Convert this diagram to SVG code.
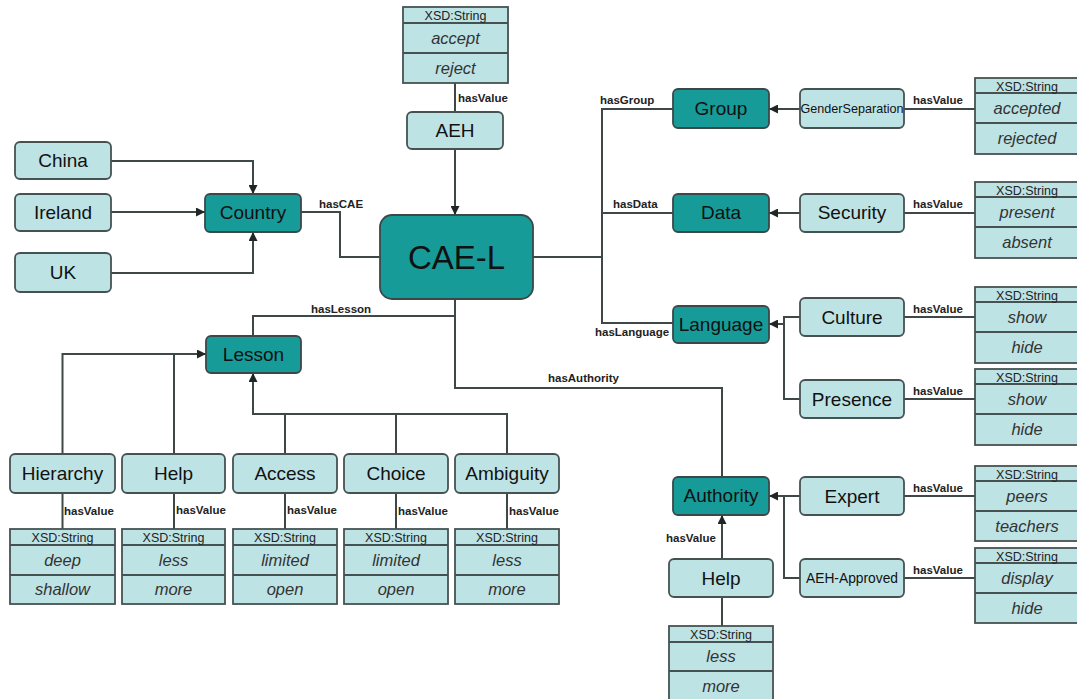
<svg xmlns="http://www.w3.org/2000/svg" width="1077" height="699" viewBox="0 0 1077 699">
  <style>
    .lt { fill: #bee3e5; stroke: #465252; stroke-width: 1.8; }
    .dk { fill: #179b99; stroke: #3c4848; stroke-width: 1.8; }
    .lbl { font-family: "Liberation Sans", Arial, sans-serif; font-size: 19px; fill: #111; text-anchor: middle; }
    .edge { fill: none; stroke: #3e4848; stroke-width: 2; }
    .rel { font-family: "Liberation Sans", Arial, sans-serif; font-size: 11.5px; font-weight: bold; fill: #222; }
    .tb { fill: #bee3e5; stroke: #465252; stroke-width: 1.8; }
    .sep { stroke: #465252; stroke-width: 1.8; }
    .hd { font-family: "Liberation Sans", Arial, sans-serif; font-size: 12.5px; fill: #222; text-anchor: middle; }
    .val { font-family: "Liberation Sans", Arial, sans-serif; font-size: 16.5px; font-style: italic; fill: #333; text-anchor: middle; }
  </style>
  <defs>
    <marker id="arr" viewBox="0 0 10 10" refX="10" refY="5" markerWidth="4.5" markerHeight="4.5" orient="auto" markerUnits="strokeWidth">
      <path d="M0,0 L10,5 L0,10 z" fill="#1e2626"/>
    </marker>
  </defs>
  <rect width="1077" height="699" fill="#ffffff"/>

  <!-- connectors -->
  <g id="connectors">
    <path class="edge" d="M111,161 H253 V194" marker-end="url(#arr)"/>
    <path class="edge" d="M111,212 H205" marker-end="url(#arr)"/>
    <path class="edge" d="M111,273 H253 V232" marker-end="url(#arr)"/>
    <path class="edge" d="M301,212 H340 V257 H380"/>
    <path class="edge" d="M455,83 V112"/>
    <path class="edge" d="M455,149 V215" marker-end="url(#arr)"/>
    <path class="edge" d="M533,257 H602"/>
    <path class="edge" d="M673,109 H602 V323 H673"/>
    <path class="edge" d="M602,213 H673"/>
    <path class="edge" d="M455,299 V388 H722 V477"/>
    <path class="edge" d="M455,316 H253 V336"/>
    <path class="edge" d="M800,109 H769" marker-end="url(#arr)"/>
    <path class="edge" d="M800,213 H769" marker-end="url(#arr)"/>
    <path class="edge" d="M800,317 H784 V399 H800"/>
    <path class="edge" d="M784,324 H769" marker-end="url(#arr)"/>
    <path class="edge" d="M800,496 H769" marker-end="url(#arr)"/>
    <path class="edge" d="M784,496 V578 H800"/>
    <path class="edge" d="M722,559 V515" marker-end="url(#arr)"/>
    <path class="edge" d="M722,597 V626"/>
    <path class="edge" d="M904,109 H975"/>
    <path class="edge" d="M904,213 H975"/>
    <path class="edge" d="M904,317 H975"/>
    <path class="edge" d="M904,399 H975"/>
    <path class="edge" d="M904,496 H975"/>
    <path class="edge" d="M904,578 H975"/>
    <path class="edge" d="M62.5,454 V354 H206" marker-end="url(#arr)"/>
    <path class="edge" d="M174,454 V354"/>
    <path class="edge" d="M285,454 V414 M396,454 V414 M507,454 V414 H253 V373" marker-end="url(#arr)"/>
    <path class="edge" d="M62.5,493 V529 M174,493 V529 M285,493 V529 M396,493 V529 M507,493 V529"/>

    <text class="rel" x="458" y="102">hasValue</text>
    <text class="rel" x="319" y="208">hasCAE</text>
    <text class="rel" x="600" y="104">hasGroup</text>
    <text class="rel" x="613" y="208">hasData</text>
    <text class="rel" x="595" y="336">hasLanguage</text>
    <text class="rel" x="311" y="313">hasLesson</text>
    <text class="rel" x="548" y="382">hasAuthority</text>
    <text class="rel" x="666" y="542">hasValue</text>
    <text class="rel" x="913" y="104">hasValue</text>
    <text class="rel" x="913" y="208">hasValue</text>
    <text class="rel" x="913" y="313">hasValue</text>
    <text class="rel" x="913" y="395">hasValue</text>
    <text class="rel" x="913" y="492">hasValue</text>
    <text class="rel" x="913" y="574">hasValue</text>
    <text class="rel" x="64" y="515">hasValue</text>
    <text class="rel" x="176" y="514">hasValue</text>
    <text class="rel" x="287" y="514">hasValue</text>
    <text class="rel" x="398" y="515">hasValue</text>
    <text class="rel" x="509" y="515">hasValue</text>
  </g>

  <!-- central concept -->
  <g id="cae-l">
    <rect class="dk" x="380" y="215" width="153" height="84" rx="12"/>
    <text class="lbl" x="456.5" y="269" style="font-size:33px">CAE-L</text>
  </g>

  <!-- class nodes -->
  <g id="country"><rect class="dk" x="205" y="194" width="96" height="38" rx="5"/><text class="lbl" x="253" y="219">Country</text></g>
  <g id="lesson"><rect class="dk" x="206" y="336" width="95" height="37" rx="5"/><text class="lbl" x="253.5" y="361">Lesson</text></g>
  <g id="group"><rect class="dk" x="673" y="89" width="96" height="39" rx="5"/><text class="lbl" x="721" y="115">Group</text></g>
  <g id="data"><rect class="dk" x="673" y="194" width="96" height="38" rx="5"/><text class="lbl" x="721" y="219">Data</text></g>
  <g id="language"><rect class="dk" x="673" y="306" width="96" height="37" rx="5"/><text class="lbl" x="721" y="331">Language</text></g>
  <g id="authority"><rect class="dk" x="673" y="477" width="96" height="38" rx="5"/><text class="lbl" x="721" y="502">Authority</text></g>

  <!-- instance / property nodes -->
  <g id="china"><rect class="lt" x="15" y="142" width="96" height="37" rx="5"/><text class="lbl" x="63" y="167">China</text></g>
  <g id="ireland"><rect class="lt" x="15" y="194" width="96" height="37" rx="5"/><text class="lbl" x="63" y="219">Ireland</text></g>
  <g id="uk"><rect class="lt" x="15" y="253" width="96" height="39" rx="5"/><text class="lbl" x="63" y="279">UK</text></g>
  <g id="aeh"><rect class="lt" x="407" y="112" width="96" height="37" rx="5"/><text class="lbl" x="455" y="137">AEH</text></g>
  <g id="gender-separation"><rect class="lt" x="800" y="89" width="104" height="39" rx="5"/><text class="lbl" x="852" y="113" style="font-size:12.6px">GenderSeparation</text></g>
  <g id="security"><rect class="lt" x="800" y="194" width="104" height="38" rx="5"/><text class="lbl" x="852" y="219">Security</text></g>
  <g id="culture"><rect class="lt" x="800" y="298" width="104" height="38" rx="5"/><text class="lbl" x="852" y="324">Culture</text></g>
  <g id="presence"><rect class="lt" x="800" y="380" width="104" height="38" rx="5"/><text class="lbl" x="852" y="406">Presence</text></g>
  <g id="expert"><rect class="lt" x="800" y="477" width="104" height="38" rx="5"/><text class="lbl" x="852" y="503">Expert</text></g>
  <g id="aeh-approved"><rect class="lt" x="800" y="559" width="104" height="38" rx="5"/><text class="lbl" x="852" y="583" style="font-size:13.8px">AEH-Approved</text></g>
  <g id="help-authority"><rect class="lt" x="669" y="559" width="104" height="38" rx="5"/><text class="lbl" x="721" y="585">Help</text></g>
  <g id="hierarchy"><rect class="lt" x="10" y="454" width="105" height="39" rx="5"/><text class="lbl" x="62.5" y="480">Hierarchy</text></g>
  <g id="help-lesson"><rect class="lt" x="122" y="454" width="103" height="39" rx="5"/><text class="lbl" x="173.5" y="480">Help</text></g>
  <g id="access"><rect class="lt" x="233" y="454" width="104" height="39" rx="5"/><text class="lbl" x="285" y="480">Access</text></g>
  <g id="choice"><rect class="lt" x="344" y="454" width="104" height="39" rx="5"/><text class="lbl" x="396" y="480">Choice</text></g>
  <g id="ambiguity"><rect class="lt" x="455" y="454" width="104" height="39" rx="5"/><text class="lbl" x="507" y="480">Ambiguity</text></g>

  <!-- XSD:String value tables -->
  <g id="values-aeh" transform="translate(403,7)">
    <rect class="tb" width="105" height="76"/><line class="sep" x1="0" y1="16" x2="105" y2="16"/><line class="sep" x1="0" y1="46" x2="105" y2="46"/>
    <text class="hd" x="52.5" y="13">XSD:String</text><text class="val" x="52.5" y="37">accept</text><text class="val" x="52.5" y="67">reject</text>
  </g>
  <g id="values-gender" transform="translate(975,78)">
    <rect class="tb" width="106" height="76"/><line class="sep" x1="0" y1="15" x2="106" y2="15"/><line class="sep" x1="0" y1="45" x2="106" y2="45"/>
    <text class="hd" x="52" y="12.5">XSD:String</text><text class="val" x="52" y="36">accepted</text><text class="val" x="52" y="66">rejected</text>
  </g>
  <g id="values-security" transform="translate(975,182)">
    <rect class="tb" width="106" height="76"/><line class="sep" x1="0" y1="15" x2="106" y2="15"/><line class="sep" x1="0" y1="45" x2="106" y2="45"/>
    <text class="hd" x="52" y="12.5">XSD:String</text><text class="val" x="52" y="36">present</text><text class="val" x="52" y="66">absent</text>
  </g>
  <g id="values-culture" transform="translate(975,287)">
    <rect class="tb" width="106" height="76"/><line class="sep" x1="0" y1="15" x2="106" y2="15"/><line class="sep" x1="0" y1="45" x2="106" y2="45"/>
    <text class="hd" x="52" y="12.5">XSD:String</text><text class="val" x="52" y="36">show</text><text class="val" x="52" y="66">hide</text>
  </g>
  <g id="values-presence" transform="translate(975,369)">
    <rect class="tb" width="106" height="76"/><line class="sep" x1="0" y1="15" x2="106" y2="15"/><line class="sep" x1="0" y1="45" x2="106" y2="45"/>
    <text class="hd" x="52" y="12.5">XSD:String</text><text class="val" x="52" y="36">show</text><text class="val" x="52" y="66">hide</text>
  </g>
  <g id="values-expert" transform="translate(975,466)">
    <rect class="tb" width="106" height="75"/><line class="sep" x1="0" y1="15" x2="106" y2="15"/><line class="sep" x1="0" y1="45" x2="106" y2="45"/>
    <text class="hd" x="52" y="12.5">XSD:String</text><text class="val" x="52" y="36">peers</text><text class="val" x="52" y="66">teachers</text>
  </g>
  <g id="values-aeh-approved" transform="translate(975,548)">
    <rect class="tb" width="106" height="75"/><line class="sep" x1="0" y1="15" x2="106" y2="15"/><line class="sep" x1="0" y1="45" x2="106" y2="45"/>
    <text class="hd" x="52" y="12.5">XSD:String</text><text class="val" x="52" y="36">display</text><text class="val" x="52" y="66">hide</text>
  </g>
  <g id="values-help-authority" transform="translate(669,626)">
    <rect class="tb" width="104" height="76"/><line class="sep" x1="0" y1="16" x2="104" y2="16"/><line class="sep" x1="0" y1="45" x2="104" y2="45"/>
    <text class="hd" x="52" y="13">XSD:String</text><text class="val" x="52" y="36">less</text><text class="val" x="52" y="66">more</text>
  </g>
  <g id="values-hierarchy" transform="translate(10,529)">
    <rect class="tb" width="105" height="75"/><line class="sep" x1="0" y1="16" x2="105" y2="16"/><line class="sep" x1="0" y1="46" x2="105" y2="46"/>
    <text class="hd" x="52.5" y="13">XSD:String</text><text class="val" x="52.5" y="37">deep</text><text class="val" x="52.5" y="66">shallow</text>
  </g>
  <g id="values-help-lesson" transform="translate(122,529)">
    <rect class="tb" width="103" height="75"/><line class="sep" x1="0" y1="16" x2="103" y2="16"/><line class="sep" x1="0" y1="46" x2="103" y2="46"/>
    <text class="hd" x="51.5" y="13">XSD:String</text><text class="val" x="51.5" y="37">less</text><text class="val" x="51.5" y="66">more</text>
  </g>
  <g id="values-access" transform="translate(233,529)">
    <rect class="tb" width="104" height="75"/><line class="sep" x1="0" y1="16" x2="104" y2="16"/><line class="sep" x1="0" y1="46" x2="104" y2="46"/>
    <text class="hd" x="52" y="13">XSD:String</text><text class="val" x="52" y="37">limited</text><text class="val" x="52" y="66">open</text>
  </g>
  <g id="values-choice" transform="translate(344,529)">
    <rect class="tb" width="104" height="75"/><line class="sep" x1="0" y1="16" x2="104" y2="16"/><line class="sep" x1="0" y1="46" x2="104" y2="46"/>
    <text class="hd" x="52" y="13">XSD:String</text><text class="val" x="52" y="37">limited</text><text class="val" x="52" y="66">open</text>
  </g>
  <g id="values-ambiguity" transform="translate(455,529)">
    <rect class="tb" width="104" height="75"/><line class="sep" x1="0" y1="16" x2="104" y2="16"/><line class="sep" x1="0" y1="46" x2="104" y2="46"/>
    <text class="hd" x="52" y="13">XSD:String</text><text class="val" x="52" y="37">less</text><text class="val" x="52" y="66">more</text>
  </g>
</svg>
